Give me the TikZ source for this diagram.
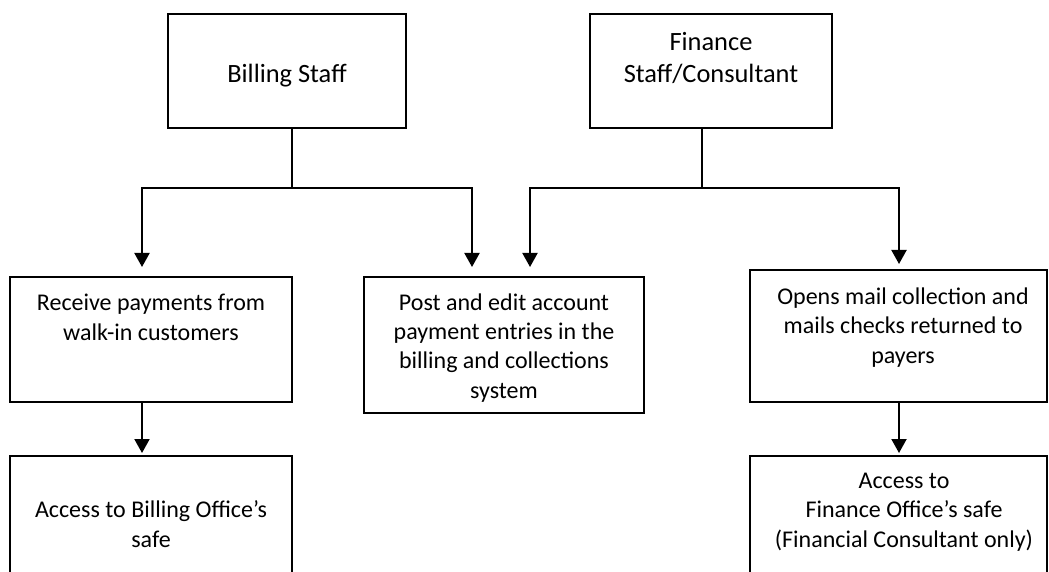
\documentclass[tikz,border=0pt]{standalone}
\usepackage{fontspec}
\setmainfont{Carlito}
\usetikzlibrary{arrows.meta}
\begin{document}
\begin{tikzpicture}[x=0.5pt,y=-0.5pt,
  box/.style={draw=black, line width=1pt, inner sep=0pt},
  lbl/.style={font=\fontsize{12}{14.65}\selectfont, align=center, inner sep=0pt, anchor=base},
  biglbl/.style={lbl, font=\fontsize{13.2}{16}\selectfont},
  link/.style={line width=1pt},
  arr/.style={line width=1pt, line join=miter, -{Triangle[width=7.5pt,length=7pt]}}]
\clip (0,0) rectangle (1049,572);
% boxes
\node[box, minimum width=119pt, minimum height=57pt] (billing) at (287,71) {};
\node[box, minimum width=121pt, minimum height=57pt] (finance) at (711,71) {};
\node[box, minimum width=141pt, minimum height=62.5pt] (receive) at (151,339.5) {};
\node[box, minimum width=140pt, minimum height=68pt] (post) at (504,345) {};
\node[box, minimum width=148.5pt, minimum height=66pt] (opens) at (898.5,336) {};
\node[box, minimum width=141pt, minimum height=67pt] (accB) at (151,523) {};
\node[box, minimum width=148.5pt, minimum height=67pt] (accF) at (898.5,523) {};
% texts (anchored at the baseline of the last line)
\node[biglbl] (billingT) at (287,83) {Billing Staff};
\node[biglbl] (financeT) at (711,83) {Finance\\Staff/Consultant};
\node[lbl] (receiveT) at (151,340) {Receive payments from\\walk-in customers};
\node[lbl] (postT) at (504,398) {Post and edit account\\payment entries in the\\billing and collections\\system};
\node[lbl] (opensT) at (903,363) {Opens mail collection and\\mails checks returned to\\payers};
\node[lbl] (accBT) at (151,547) {Access to Billing Office’s\\safe};
\node[lbl] (accFT) at (904,547) {Access to\\Finance Office’s safe\\(Financial Consultant only)};
% junctions
\coordinate (jb) at (292,188);
\coordinate (bl) at (142,188);
\coordinate (br) at (472,188);
\coordinate (jf) at (702,188);
\coordinate (fl) at (530,188);
\coordinate (fr) at (899,188);
% connectors
\draw[link] (billing.south -| jb) -- (jb);
\draw[arr, shorten >=4.5pt] (jb) -- (bl) -- (bl |- receive.north);
\draw[arr, shorten >=4.5pt] (jb) -- (br) -- (br |- post.north);
\draw[link] (finance.south -| jf) -- (jf);
\draw[arr, shorten >=4.5pt] (jf) -- (fl) -- (fl |- post.north);
\draw[arr, shorten >=2.5pt] (jf) -- (fr) -- (fr |- opens.north);
\draw[arr, shorten >=1pt] (receive.south -| bl) -- (bl |- accB.north);
\draw[arr, shorten >=1pt] (opens.south -| fr) -- (fr |- accF.north);
\end{tikzpicture}
\end{document}
